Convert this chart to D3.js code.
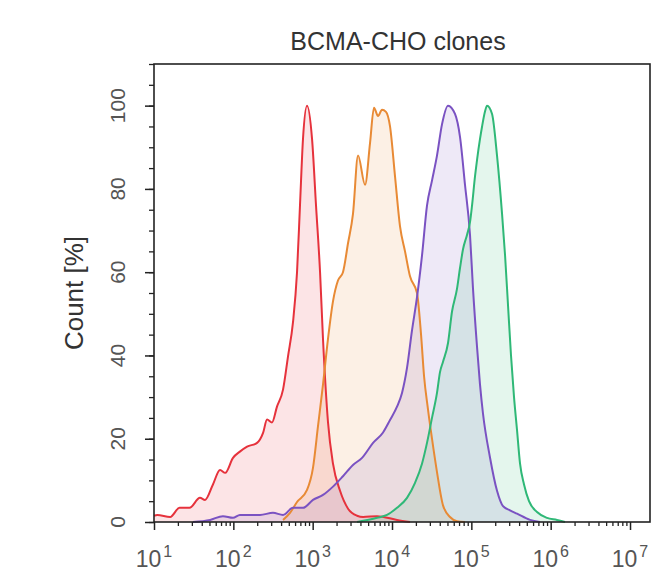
<!DOCTYPE html>
<html><head><meta charset="utf-8">
<script src="https://cdn.jsdelivr.net/npm/d3@7"></script>
<style>body{margin:0;background:#fff} text{font-family:"Liberation Sans", Arial, sans-serif}</style>
</head><body><svg id="c" width="658" height="573"></svg>
<script>
const title = "BCMA-CHO clones";
const yLabel = "Count [%]";
const yTickValues = [0, 20, 40, 60, 80, 100];
const xTickExponents = [1, 2, 3, 4, 5, 6, 7];

// intensity (x) and Count % (y) per clone
const redX = [10, 11, 16, 21, 28, 38, 44, 55, 68, 79, 99, 121, 149, 199, 237, 266, 307, 355, 423, 489, 565, 635, 692, 755, 849, 982, 1102, 1239, 1349, 1560, 1803, 2213, 2793, 3625, 4315, 6475, 11561, 16866];
const redY = [1.5, 1.7, 1.2, 3.4, 3.4, 5.8, 5.3, 8.9, 12.5, 11.8, 15.4, 16.9, 18.1, 19, 21.4, 24.6, 23.9, 27.7, 31.8, 39.8, 48, 60, 76, 92, 100, 92, 76, 60, 44, 24, 14, 7.5, 3.2, 1.5, 1.2, 1.4, 0.5, 0];

const orangeX = [423, 518, 635, 849, 1009, 1167, 1349, 1560, 1803, 2084, 2409, 2793, 3222, 3733, 4571, 5284, 5929, 6668, 7482, 8395, 9441, 10914, 12618, 14587, 16866, 20654, 23230, 25350, 28445, 31915, 36897, 43954, 53827, 65917, 83176];
const orangeY = [0.5, 2.2, 4.8, 7.7, 13, 23, 33, 44, 53, 58, 60, 67, 74, 88, 81, 91, 99.5, 97.5, 99, 98.5, 95, 83, 71, 65, 59, 55, 45, 35, 27, 20, 12, 4, 1.2, 0.2, 0];

const purpleX = [31, 51, 74, 99, 121, 217, 316, 423, 565, 755, 1009, 1349, 1803, 2409, 3222, 4188, 5768, 7709, 9441, 11561, 13366, 15453, 17865, 20654, 23878, 27606, 31915, 36897, 42658, 50816, 62233, 71945, 83176, 96158, 104960, 118000, 128600, 140300, 171800, 210700, 250800, 307300, 376800, 549500, 734500];
const purpleY = [0, 0.5, 1.4, 1, 1.7, 1.7, 2.2, 1.7, 3.4, 3.4, 5.3, 6.5, 8.5, 11, 13.7, 15.4, 19, 21.5, 24.5, 27.7, 31, 37, 46, 54, 64, 76, 82, 88, 95.5, 100, 98, 92.5, 81, 69, 56, 42, 33, 26, 15.5, 7.5, 3.8, 2.8, 2, 0.5, 0];

const greenX = [3625, 6475, 8650, 11561, 15453, 19500, 23878, 27606, 31915, 36897, 40270, 43954, 50816, 57000, 65917, 71945, 78520, 88300, 96158, 102000, 111200, 118000, 128600, 136500, 148600, 157800, 182400, 210700, 243800, 266100, 290000, 316200, 345100, 376800, 411000, 461300, 533100, 673000, 899500, 1202000, 1517000];
const greenY = [0, 1, 1.7, 3.4, 5.8, 9.4, 14, 19, 25, 31, 36, 38.5, 43, 50.5, 56, 61, 65.5, 69, 72, 76, 83, 87, 92, 95, 98.6, 100, 98, 88, 74, 64, 52, 40, 30, 22, 14, 9, 5, 2.4, 1, 0.5, 0];

const seriesNames = ["red", "orange", "purple", "green"];
const seriesColors = ["#e6323c", "#e88a35", "#7a52c2", "#2fb877"];

const series = [
  {name: seriesNames[0], color: seriesColors[0], pts: d3.zip(redX, redY)},
  {name: seriesNames[1], color: seriesColors[1], pts: d3.zip(orangeX, orangeY)},
  {name: seriesNames[2], color: seriesColors[2], pts: d3.zip(purpleX, purpleY)},
  {name: seriesNames[3], color: seriesColors[3], pts: d3.zip(greenX, greenY)}
];

const svg = d3.select("#c");
const x = d3.scaleLog().domain([10, 1.786e7]).range([154, 650]);
const y = d3.scaleLinear().domain([0, 110]).range([522, 64]);

const area = d3.area().curve(d3.curveMonotoneX).x(d => x(d[0])).y0(y(0)).y1(d => y(d[1]));
const line = d3.line().curve(d3.curveMonotoneX).x(d => x(d[0])).y(d => y(d[1]));

const g = svg.append("g");
series.forEach(s => {
  g.append("path").attr("d", area(s.pts)).attr("fill", s.color).attr("fill-opacity", 0.13).attr("stroke", "none");
});
series.forEach(s => {
  g.append("path").attr("d", line(s.pts)).attr("fill", "none").attr("stroke", s.color).attr("stroke-width", 2).attr("stroke-linejoin", "round");
});

const axisColor = "#222";
// minor ticks
const xMinor = [];
xTickExponents.forEach(e => { for (let m = 2; m <= 9; m++) { const v = m * Math.pow(10, e); if (v <= x.domain()[1]) xMinor.push(v); } });
svg.append("g").attr("transform", `translate(0,${y(0)})`)
  .call(d3.axisBottom(x).tickValues(xMinor).tickSize(4).tickFormat(""))
  .call(a => a.select(".domain").remove())
  .call(a => a.selectAll("line").attr("stroke", axisColor).attr("stroke-width", 1.3));
svg.append("g").attr("transform", `translate(0,${y(0)})`)
  .call(d3.axisBottom(x).tickValues(xTickExponents.map(e => Math.pow(10, e))).tickSize(8).tickSizeOuter(0).tickFormat(""))
  .call(a => a.select(".domain").remove())
  .call(a => a.selectAll("line").attr("stroke", axisColor).attr("stroke-width", 1.5));

const yMinor = d3.range(0, 111, 5);
svg.append("g").attr("transform", `translate(${x.range()[0]},0)`)
  .call(d3.axisLeft(y).tickValues(yMinor).tickSize(5).tickFormat(""))
  .call(a => a.select(".domain").remove())
  .call(a => a.selectAll("line").attr("stroke", axisColor).attr("stroke-width", 1.3));
svg.append("g").attr("transform", `translate(${x.range()[0]},0)`)
  .call(d3.axisLeft(y).tickValues(yTickValues).tickSize(9).tickFormat(""))
  .call(a => a.select(".domain").remove())
  .call(a => a.selectAll("line").attr("stroke", axisColor).attr("stroke-width", 1.5));

// frame
const [x0, x1] = x.range(), [yb, yt] = y.range();
svg.append("rect").attr("x", x0).attr("y", yt).attr("width", x1 - x0).attr("height", yb - yt)
  .attr("fill", "none").attr("stroke", axisColor).attr("stroke-width", 1.6);

// y tick labels (rotated)
svg.append("g").selectAll("text").data(yTickValues).join("text")
  .attr("transform", d => `translate(118,${y(d)}) rotate(-90)`)
  .attr("text-anchor", "middle").attr("dy", "0.35em")
  .attr("font-size", 21).attr("fill", "#555").text(d => d);

// x tick labels 10^n
const xl = svg.append("g").selectAll("text").data(xTickExponents).join("text")
  .attr("x", e => x(Math.pow(10, e))).attr("y", 567)
  .attr("text-anchor", "middle").attr("font-size", 23).attr("fill", "#555");
xl.append("tspan").text("10");
xl.append("tspan").attr("dx", 2).attr("dy", -10).attr("font-size", 16).text(e => e);

svg.append("text").attr("x", 398).attr("y", 50).attr("text-anchor", "middle")
  .attr("font-size", 25).attr("fill", "#333").text(title);

svg.append("text").attr("transform", "translate(74,293) rotate(-90)")
  .attr("text-anchor", "middle").attr("dy", "0.35em")
  .attr("font-size", 26).attr("fill", "#333").text(yLabel);
</script></body></html>
